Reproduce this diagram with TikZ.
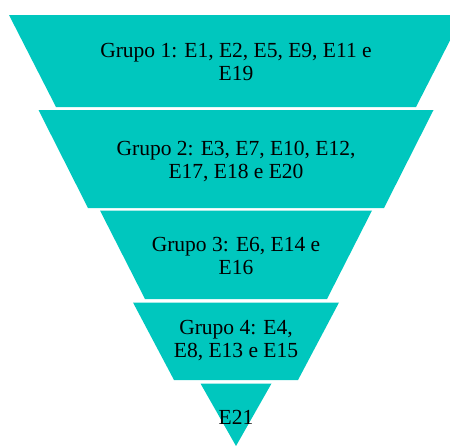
\documentclass[tikz,border=0pt]{standalone}
\usepackage{fontspec}
\setmainfont{Liberation Serif}
\definecolor{tier}{RGB}{0,199,190}
\begin{document}
\begin{tikzpicture}[x=1pt,y=-1pt,
  tierfill/.style={fill=tier,draw=none},
  tierlabel/.style={align=center,inner sep=0pt,text=black,
    font=\fontsize{21.5pt}{23pt}\selectfont}]
\useasboundingbox (0,0) rectangle (450,445);
% five stacked tiers of the inverted pyramid
\fill[tierfill] (9,15) -- (463,15) -- (416,107) -- (56,107) -- cycle;
\fill[tierfill] (38.5,110) -- (433.5,110) -- (384,208) -- (88,208) -- cycle;
\fill[tierfill] (100,210.5) -- (372,210.5) -- (327,299) -- (145,299) -- cycle;
\fill[tierfill] (133,302.5) -- (339,302.5) -- (298,380) -- (174,380) -- cycle;
\fill[tierfill] (200.5,383.5) -- (271.5,383.5) -- (236,446) -- cycle;
% tier labels
\node[tierlabel] (g1) at (236,62) {Grupo 1: E1, E2, E5, E9, E11 e\\E19};
\node[tierlabel] (g2) at (236,161) {Grupo 2: E3, E7, E10, E12,\\E17, E18 e E20};
\node[tierlabel] (g3) at (236,256) {Grupo 3: E6, E14 e\\E16};
\node[tierlabel] (g4) at (236,341) {Grupo 4: E4,\\E8, E13 e E15};
\node[tierlabel] (g5) at (236,417) {E21};
\end{tikzpicture}
\end{document}
